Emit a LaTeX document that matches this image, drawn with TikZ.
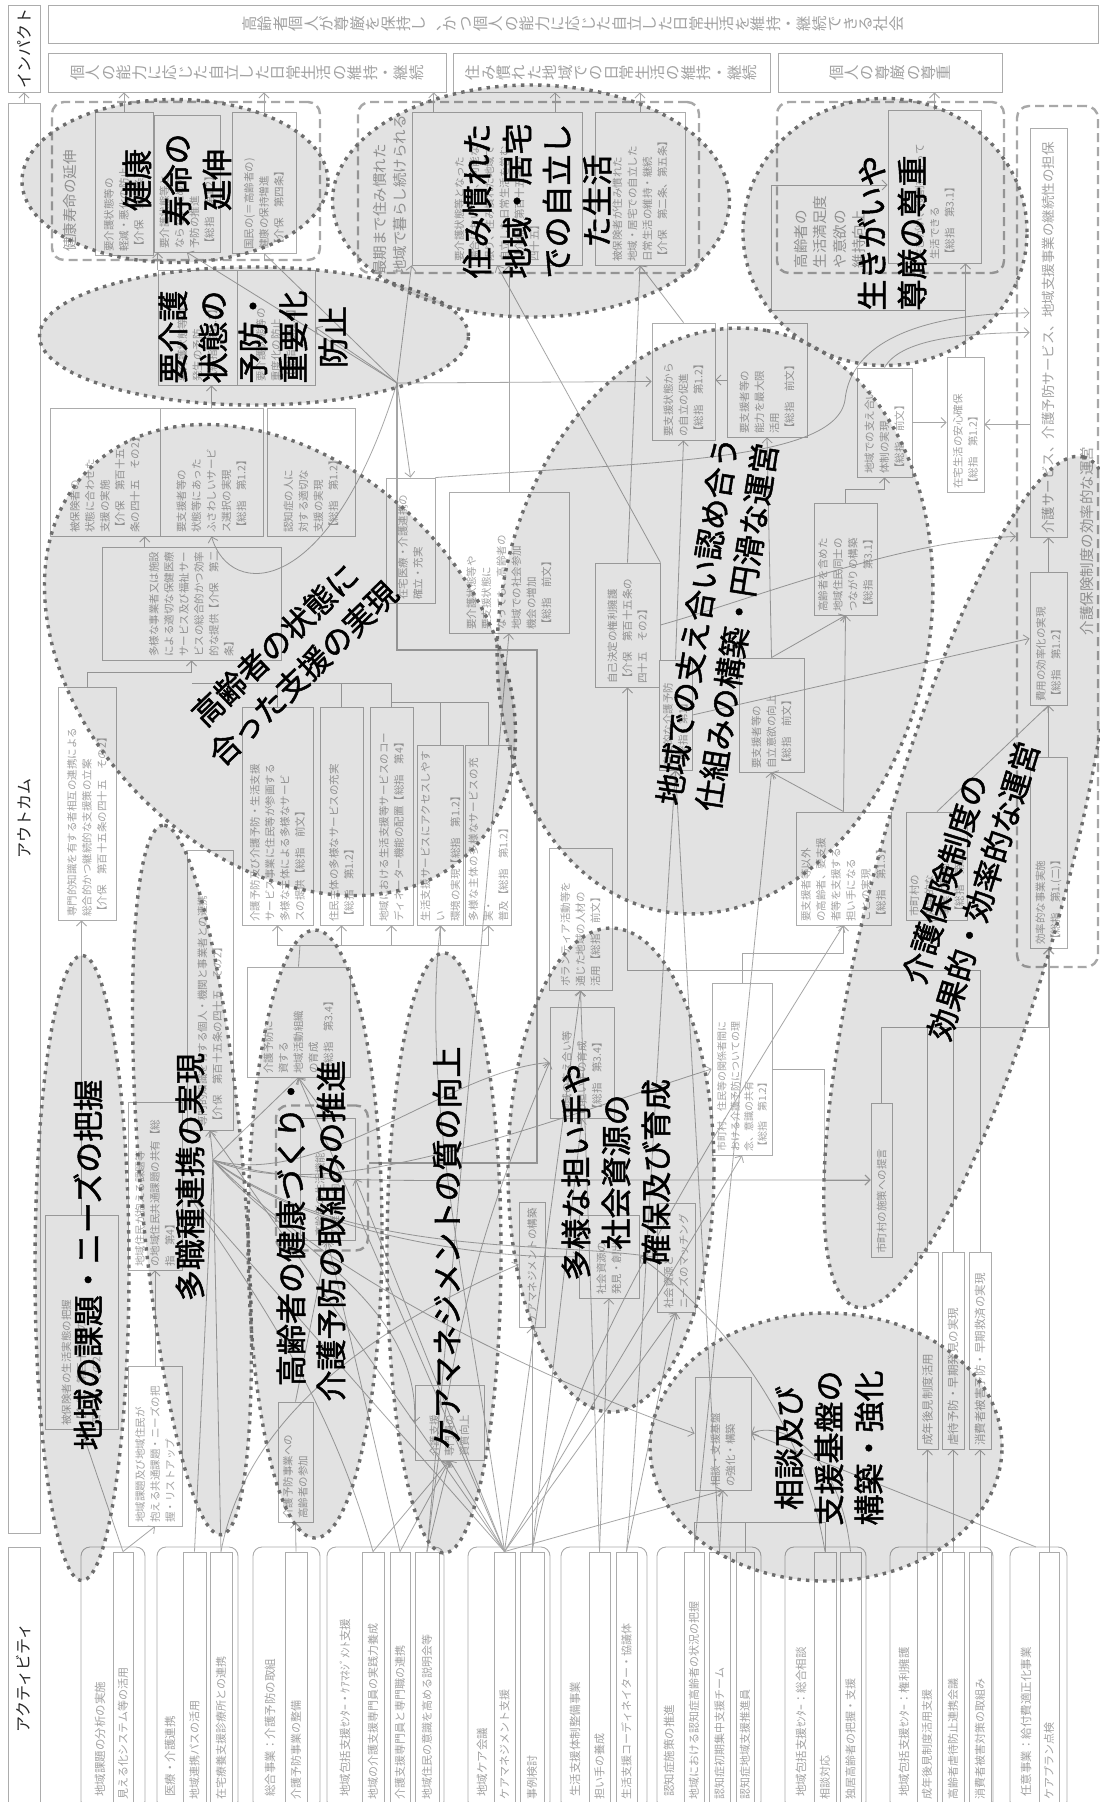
\documentclass[tikz,border=0pt]{standalone}
\usepackage{fontspec}
\usepackage{graphicx}
\newfontfamily\jp{Noto Sans CJK JP}
\newfontfamily\jpm{Noto Sans CJK JP}[FakeBold=1.6]
\usetikzlibrary{shapes.geometric,arrows.meta,calc}
\XeTeXlinebreaklocale "ja"
\XeTeXlinebreakskip=0pt plus 1pt
\definecolor{bc}{HTML}{ACACAC}
\definecolor{tc}{HTML}{A2A2A2}
\definecolor{lc}{HTML}{A6A6A6}
\definecolor{dc}{HTML}{6E6E6E}
\definecolor{gc}{HTML}{A8A8A8}
\makeatletter
\def\tate#1{\vbox{\baselineskip=1em\lineskiplimit=-\maxdimen\lineskip=0pt\relax\tate@#1\relax}}
\def\tate@#1{\ifx\relax#1\else\hbox to 1em{\hss#1\hss}\expandafter\tate@\fi}
\makeatother
\newcommand{\bx}[7][]{%
 \pgfmathsetmacro\bxcx{(#3+#5)/2}%
 \pgfmathsetmacro\bxcy{(#4+#6)/2}%
 \pgfmathsetmacro\bxl{abs(#6-#4)}%
 \pgfmathsetmacro\bxw{abs(#5-#3)}%
 \pgfmathsetmacro\bxt{abs(#6-#4)-7}%
 \node[obox,minimum width=\bxl pt,minimum height=\bxw pt,text width=\bxt pt,#1] (#2) at (\bxcx,\bxcy) {#7};}
\begin{document}
\begin{tikzpicture}[x=1pt,y=-1pt,
 obox/.style={rotate=90,draw=bc,fill=white,line width=0.9pt,inner sep=3pt,text=tc,align=left,font=\jp\fontsize{10.5}{15}\selectfont},
 ibox/.style={draw=bc,fill=white,line width=0.9pt,inner sep=0pt,text=tc,font=\jp\fontsize{15.4}{16}\selectfont},
 hdr/.style={rotate=90,draw=bc,fill=white,line width=0.9pt,minimum height=32pt,inner sep=0pt,text=black!85,font=\jp\fontsize{16}{18}\selectfont},
 dgrp/.style={draw=gc,line width=2.4pt,dash pattern=on 9pt off 5pt,rounded corners=12pt,inner sep=0pt},
 glab/.style={rotate=90,text=tc,align=left,inner sep=0pt,font=\jp\fontsize{14.5}{19.5}\selectfont},
 agrp/.style={draw=bc,line width=0.9pt,rounded corners=9pt,inner sep=0pt,minimum height=263pt},
 alab/.style={rotate=90,anchor=west,text=tc,inner sep=0pt,font=\jp\fontsize{11.5}{13}\selectfont},
 sf/.style={font=\jp\fontsize{11}{13}\selectfont},
 ell/.style={ellipse,draw=dc,line width=3.4pt,dash pattern=on 3.4pt off 5.2pt,fill=black,fill opacity=0.115,draw opacity=1,inner sep=0pt},
 big/.style={align=center,text=black,inner sep=0pt,font=\jpm\fontsize{31}{40}\selectfont},
 bigv/.style={big,rotate=90},
 cn/.style={draw=lc,line width=0.8pt},
 ca/.style={cn,-{Straight Barb[length=5pt,width=10pt]}}
]
\useasboundingbox (0,0) rectangle (1100,1802);
\fill[white] (0,0) rectangle (1100,1802);
\clip (0,0) rectangle (1100,1802);

% ---------------- header column
\node[hdr,minimum width=87pt] (hImp) at (24,48.5) {インパクト};
\node[hdr,minimum width=1430pt] (hOut) at (24,818) {アウトカム};
\node[hdr,minimum width=262pt] (hAct) at (24,1678) {アクティビティ};

% ---------------- impact rows
\node[ibox,minimum width=1050pt,minimum height=38pt] (imp) at (573,24) {\rotatebox{90}{\tate{高齢者個人が尊厳を保持し、かつ個人の能力に応じた自立した日常生活を維持・継続できる社会}}};
\node[ibox,minimum width=398pt,minimum height=39pt] (o1) at (247,72.5) {\rotatebox{90}{\tate{個人の能力に応じた自立した日常生活の維持・継続}}};
\node[ibox,minimum width=317pt,minimum height=39pt] (o2) at (611.5,72.5) {\rotatebox{90}{\tate{住み慣れた地域での日常生活の維持・継続}}};
\node[ibox,minimum width=224pt,minimum height=39pt] (o3) at (890,72.5) {\rotatebox{90}{\tate{個人の尊厳の尊重}}};

% ---------------- dashed groups
\node[dgrp,minimum width=268pt,minimum height=158pt] (g1) at (186,181) {};
\node[dgrp,minimum width=341pt,minimum height=171pt] (g2) at (528.5,187.5) {};
\node[dgrp,minimum width=227pt,minimum height=171pt] (g3) at (890.5,187.5) {};
\node[dgrp,minimum width=81pt,minimum height=861pt] (g4) at (1057.5,536.5) {};
\node[dgrp,minimum width=92pt,minimum height=145pt] (g5) at (322,1178) {};
\node[glab] (g1l) at (70,201) {健康寿命の延伸};
\node[glab] (g2l) at (390,195) {最期まで住み慣れた\\地域で暮らし続けられる};
\node[glab] (g3l) at (830,232) {高齢者の\\生活満足度\\や意欲の\\維持向上};
\node[glab] (g4l) at (1087,541) {介護保険制度の効率的な運営};

% ---------------- outcome boxes (top)
\bx{b1a}{95}{112}{153}{255}{要介護状態等の\\軽減・悪化の防止\\【介保　第二条】}
\bx{b1b}{154}{115}{220}{252}{要介護状態等と\\ならないための\\予防の推進\\【総指　第1.2】}
\bx{b1c}{232}{112}{296}{253}{国民の(＝高齢者の)\\健康の保持増進\\【介保　第四条】}
\bx{b2a}{412}{112}{582}{265}{要介護状態等となった\\場合においても、可能な\\限り、住み慣れた地域で\\自立した日常生活を営む\\【介保　第百十五条の\\四十五】}
\bx{b2b}{595}{112}{685}{265}{被保険者が住み慣れた\\地域・居宅での自立した\\日常生活の維持・継続\\【介保　第二条、第五条】}
\bx{b3b}{888}{110}{981}{263}{生きがい、役割を持って\\生活できる\\【総指　第3.1】}
\bx[font=\jp\fontsize{13.5}{15}\selectfont]{b4a}{1030}{128}{1067}{537}{介護サービス、介護予防サービス、地域支援事業の継続性の担保}
\bx{b4b}{1030}{572}{1067}{705}{費用の効率化の実現\\【総指　第1.2】}
\bx{b4c}{1030}{757}{1067}{948}{効率的な事業実施\\【総指　第1.(二)】}

% ---------------- E2 / E5 area
\bx{b5a}{158}{270}{237}{385}{要介護状態等の\\発生の予防\\【総指　第1.2】}
\bx{b5b}{237}{270}{315}{385}{要介護状態等の\\重度化の防止\\【総指　第1.2】}
\bx{b6a}{50}{408}{160}{536}{被保険者の\\状態に合わせた\\支援の実施\\【介保　第百十五\\条の四十五　その2】}
\bx{b6b}{160}{408}{263}{536}{要支援者等の\\状態等にあった\\ふさわしいサービ\\ス選択の実現\\【総指　第1.2】}
\bx{b6c}{267}{408}{355}{536}{認知症の人に\\対する適切な\\支援の実現\\【総指　第1.2】}
\bx{b6d}{102}{547}{281}{660}{多様な事業者又は施設\\による適切な保健医療\\サービス及び福祉サー\\ビスの総合的かつ効率\\的な提供【介保　第二条】}
\bx{b6e}{58}{687}{116}{920}{専門的知識を有する者相互の連携による\\総合的かつ継続的な支援策の立案\\【介保　第百十五条の四十五　その2】}
\bx{b6f}{242}{707}{313}{925}{介護予防及び介護予防・生活支援\\サービス事業に住民等が参画する\\多様な主体による多様なサービ\\スの提供【総指　前文】}
\bx{b6g}{320}{707}{363}{925}{住民主体の多様なサービスの充実\\【総指　第1.2】}
\bx{b6h}{370}{707}{413}{925}{地域における生活支援等サービスのコー\\ディネーター機能の配置【総指　第4】}
\bx{b6i}{420}{745}{461}{925}{生活支援サービスにアクセスしやすい\\環境の実現【総指　第1.2】}
\bx{b6j}{467}{745}{510}{925}{多様な主体の多様なサービスの充実・\\普及【総指　第1.2】}

% ---------------- E13 area
\bx{b7a}{386}{478}{435}{603}{在宅医療・介護連携の\\確立・充実}
\bx{b7b}{449}{492}{569}{633}{要介護状態等や\\要支援状態に\\なっても、高齢者の\\地域での社会参加\\機会の増加\\【総指　前文】}
\bx{b7c}{595}{563}{660}{687}{自己決定の権利擁護\\【介保　第百十五条の\\四十五　その2】}
\bx{b7d}{659}{660}{692}{770}{自立的な介護予防\\【総指　第1】}
\bx{b7e}{652}{323}{715}{440}{要支援状態から\\の自立の促進\\【総指　第1.2】}
\bx{b7f}{727}{323}{807}{437}{要支援者等の\\能力を最大限\\活用\\【総指　前文】}
\bx{b7g}{857}{368}{912}{477}{地域での支え合い\\体制の実現\\【総指　前文】}
\bx{b7h}{947}{357}{984}{492}{在宅生活の安心確保\\【総指　第1.2】}
\bx{b7i}{814}{503}{877}{615}{高齢者を含めた\\地域住民同士の\\つながりの構築\\【総指　第3.1】}
\bx{b7j}{739}{658}{804}{772}{要支援者等の\\自立意欲の向上\\【総指　前文】}
\bx{b7k}{796}{812}{891}{925}{要支援者等以外\\の高齢者、要支援\\者等を支援する\\担い手になる\\ことの実現\\【総指　第1.3】}
\bx{b7l}{907}{812}{967}{920}{市町村の\\効果的な\\事業の実施\\【総指　第1】}

% ---------------- lower outcome boxes
\bx{b8a}{549}{848}{612}{990}{ボランティア活動等を\\通じた地域の人材の\\活用【総指　前文】}
\bx{b8b}{550}{1007}{614}{1118}{地域の支え合い等\\の担い手の育成\\【総指　第3.4】}
\bx[font=\jp\fontsize{10}{13.5}\selectfont]{b8d}{712}{983}{772}{1155}{市町村、住民等の関係者間に\\おける介護予防についての理\\念、意識の共有\\【総指　第1.2】}
\bx{b8e}{871}{1103}{892}{1257}{市町村の施策への提言}
\bx[font=\jp\fontsize{11.5}{13}\selectfont]{b8f}{917}{1252}{938}{1449}{成年後見制度活用}
\bx[font=\jp\fontsize{11.5}{13}\selectfont]{b8g}{942}{1252}{964}{1449}{虐待予防・早期発見の実現}
\bx[font=\jp\fontsize{11.5}{13}\selectfont]{b8h}{969}{1252}{991}{1449}{消費者被害予防・早期救済の実現}

\bx{b9a}{45}{1215}{118}{1429}{被保険者の生活実態の把握\\【介保　第百十五条の\\四十五　その2】}
\bx{b9b}{128}{1366}{182}{1526}{地域課題及び地域住民が\\抱える共通課題・ニーズの把\\握・リストアップ}
\bx{b9c}{128}{1102}{182}{1270}{地域住民が抱える課題等\\の地域住民共通課題の共有【総\\指　第4】}
\bx{b9d}{187}{850}{233}{1130}{専門的知識を有する個人・機関と事業者との連携\\【介保　第百十五条の四十五　その2】}
\bx{b9e}{247}{967}{350}{1077}{介護予防に\\資する\\地域活動組織\\の育成\\【総指　第3.4】}
\bx{b9f}{300}{1118}{355}{1240}{高齢者の生活機能\\の維持・向上}
\bx{b9g}{278}{1402}{313}{1522}{介護予防事業への\\高齢者の参加}
\bx{b9h}{415}{1385}{484}{1460}{介護支援\\専門員の\\資質向上}
\bx{b9i}{519}{1202}{545}{1327}{ケアマネジメントの構築}
\bx{b9j}{579}{1215}{639}{1298}{社会資源の\\発見・創出}
\bx{b9k}{657}{1203}{695}{1312}{社会資源と\\ニーズのマッチング}
\bx{b9l}{695}{1377}{751}{1490}{相談・支援基盤\\の強化・構築}

% ---------------- activities
\node[agrp,minimum width=64pt] (a1) at (113,1678.5) {};
\node[agrp,minimum width=81pt] (a2) at (197.5,1678.5) {};
\node[agrp,minimum width=67pt] (a3) at (286.5,1678.5) {};
\node[agrp,minimum width=117pt] (a4) at (385.5,1678.5) {};
\node[agrp,minimum width=82pt] (a5) at (509,1678.5) {};
\node[agrp,minimum width=86pt] (a6) at (604,1678.5) {};
\node[agrp,minimum width=104pt] (a7) at (709,1678.5) {};
\node[agrp,minimum width=81pt] (a8) at (825.5,1678.5) {};
\node[agrp,minimum width=103pt] (a9) at (941.5,1678.5) {};
\node[agrp,minimum width=57pt] (a10) at (1038.5,1678.5) {};
\node[alab] (a1l) at (100,1797) {地域課題の分析の実施};
\node[alab] (a2l) at (170,1797) {医療・介護連携};
\node[alab] (a3l) at (270,1797) {総合事業：介護予防の取組};
\node[alab] (a4l) at (345,1797) {地域包括支援ｾﾝﾀｰ・ｹｱﾏﾈｼﾞﾒﾝﾄ支援};
\node[alab] (a5l) at (482,1797) {地域ケア会議};
\node[alab] (a6l) at (575,1797) {生活支援体制整備事業};
\node[alab] (a7l) at (669,1797) {認知症施策の推進};
\node[alab] (a8l) at (801,1797) {地域包括支援ｾﾝﾀｰ：総合相談};
\node[alab] (a9l) at (904,1797) {地域包括支援ｾﾝﾀｰ：権利擁護};
\node[alab] (a10l) at (1026,1797) {任意事業：給付費適正化事業};
\bx[sf]{s11}{113}{1552}{133}{1803}{見える化システム等の活用}
\bx[sf]{s21}{183}{1552}{206}{1803}{地域連携パスの活用}
\bx[sf]{s22}{210}{1552}{232}{1803}{在宅療養支援診療所との連携}
\bx[sf]{s31}{285}{1552}{307}{1803}{介護予防事業の整備}
\bx[sf]{s41}{362}{1552}{384}{1803}{地域の介護支援専門員の実践力養成}
\bx[sf]{s42}{390}{1552}{410}{1803}{介護支援専門員と専門職の連携}
\bx[sf]{s43}{415}{1552}{439}{1803}{地域住民の意識を高める説明会等}
\bx[sf]{s51}{494}{1552}{515}{1803}{ケアマネジメント支援}
\bx[sf]{s52}{520}{1552}{544}{1803}{事例検討}
\bx[sf]{s61}{589}{1552}{610}{1803}{担い手の養成}
\bx[sf]{s62}{616}{1552}{637}{1803}{生活支援コーディネイター・協議体}
\bx[sf]{s71}{684}{1552}{704}{1803}{地域における認知症高齢者の状況の把握}
\bx[sf]{s72}{709}{1552}{730}{1803}{認知症初期集中支援チーム}
\bx[sf]{s73}{736}{1552}{754}{1803}{認知症地域支援推進員}
\bx[sf]{s81}{814}{1552}{836}{1803}{相談対応}
\bx[sf]{s82}{840}{1552}{861}{1803}{独居高齢者の把握・支援}
\bx[sf]{s91}{917}{1552}{937}{1803}{成年後見制度活用支援}
\bx[sf]{s92}{942}{1552}{964}{1803}{高齢者虐待防止連携会議}
\bx[sf]{s93}{969}{1552}{991}{1803}{消費者被害対策の取組み}
\bx[sf]{s101}{1039}{1552}{1059}{1803}{ケアプラン点検}

% ---------------- connectors
\draw[ca] (hOut.east) -- (hImp.west);
\draw[ca] (b1a.east) -- (b1a.east |- o1.south);
\draw[ca] (b1c.east) -- (b1c.east |- o1.south);
\coordinate (p1) at ($(b2a.north east)!0.13!(b2a.south east)$);
\draw[ca] (p1) -- (p1 |- o1.south);
\coordinate (p2) at ($(b2a.north east)!0.84!(b2a.south east)$);
\draw[ca] (p2) -- (p2 |- o2.south);
\draw[ca] (b2b.east) -- (b2b.east |- o2.south);
\draw[ca] (b3b.east) -- (b3b.east |- o3.south);
\draw[ca] (b4c.east) -- (b4b.west);
\draw[ca] (b4b.east) -- (b4a.west);
\draw[ca] (b7h.east) -- (b7h.east |- b3b.west);
\draw[ca] (b7g.south) -- (b7g.south -| b7h.north);
\draw[ca] (b4a.north |- b7h.south) -- (b7h.south);
\draw[ca] (b7i.east) -- ++(0,-13) -| (b7g.west);
\draw[ca] (b7j.east) -- (b7i.west);
\draw[ca] (b7k.east) -- (b7i.west);
\draw[ca] (b7k.east) -- (b7j.west);
\draw[ca] (b7j.east) -- (b7f.west);
\draw[ca] (b7f.north) -- (b7f.north -| b7e.south);
\draw[ca] (b7d.east) -- (b7e.west);
\draw[ca] (b7e.east) -- (b2b.west);
\draw[ca] (b7b.east) -- (b7b.east |- b2a.west);
\draw[ca] (b7c.east) -- (b2b.west);
\draw[ca] (b7c.south east) -- (b2a.west);
\coordinate (p3) at ($(b4a.north west)!0.548!(b4a.north east)$);
\draw[ca] (b7a.south east) .. controls (650,462) and (835,462) .. (845,400) .. controls (852,330) and (950,313) .. (p3);
\coordinate (p4) at ($(b4a.north west)!0.5!(b4a.north east)$);
\draw[ca] (b7g.east) .. controls (900,340) and (960,333) .. (p4);
\coordinate (p5) at ($(b3b.north west)!0.51!(b3b.north east)$);
\coordinate (q1) at (771,310);
\draw[ca] (b7h.east) |- (q1) |- (p5);
\draw[ca] (b7c.south) .. controls (750,600) and (900,540) .. (g4.west);
\draw[ca] (b7d.south) -- (b4b.north);
\draw[ca] (b7l.east) -- (b4b.west);
\coordinate (q2) at (1048.5,1027);
\draw[ca] (b8e.east) |- (q2) -- (b4c.west);
\draw[cn] (b8f.east) |- (q2);
\draw[cn] (b8g.east) |- (q2);
\draw[ca] (s101.east) -- (s101.east |- b4c.west);
\draw[ca] (s91.east) -- (b8f.west);
\draw[ca] (s92.east) -- (b8g.west);
\draw[ca] (s93.east) -- (b8h.west);
\coordinate (q4) at (824,1100);
\draw[ca] (b8d.south) -| (q4) |- (b8e.north);
\coordinate (q5) at (843.5,953);
\draw[ca] (b8d.east) |- (q5) -- (b7k.west);
\coordinate (q3) at (627.5,970);
\draw[ca] (b8h.east) |- (q3) -- (b7c.west);
% hub2 and thick bus
\coordinate (hub2) at (397,383);
\draw[ca] (hub2) -- (b5b.south);
\draw[ca] (hub2) -- (b1c.west);
\draw[ca] (hub2) -- (b1b.west);
\draw[ca] (hub2) -- (b2a.north west);
\draw[ca] (hub2) -- (b7e.north);
\draw[ca] (hub2) -- (b7a.east);
\draw[ca] (hub2) .. controls (330,600) and (230,600) .. (b6b.west);
\coordinate (k1) at (397,650);
\coordinate (k2) at (537,650);
\coordinate (k3) at (537,1163);
\coordinate (k4) at (g5.east |- k3);
\draw[cn,line width=2.2pt] (k4) -- (k3) -- (k2) -- (k1) -- (hub2);
% E2/E5
\draw[ca] (b5a.north east) -- (b5a.north east |- b1b.west);
\draw[ca] (b6b.east) -- (b6b.east |- b5a.west);
\coordinate (p7) at ($(b6d.north east)!0.24!(b6d.south east)$);
\draw[ca] (p7) -- (p7 |- b6a.west);
\draw[ca] (b6e.east) -- ++(0,-14) -| (b6d.west);
\coordinate (q8) at (191.5,683);
\draw[cn] (b6f.east) |- (q8);
\draw[cn] (b6g.east) |- (q8);
\draw[cn] (b6h.east) |- (q8);
\coordinate (q9) at (391.5,702);
\draw[cn] (b6i.east) |- (q9);
\draw[cn] (b6j.east) |- (q9);
\coordinate (q10) at (300,945);
\draw[cn] (b9e.east) -- (q10);
\draw[ca] (q10) -| (b6f.west);
\draw[ca] (q10) -| (b6g.west);
\draw[ca] (q10) -| (b6h.west);
\draw[ca] (q10) -| (b6i.west);
\draw[ca] (q10) -| (b6j.west);
% left column
\draw[ca] (s11.east) -- (b9b.west);
\draw[ca] (s11.east) -- (b9a.west);
\draw[ca] (b9b.east) -- (b9c.west);
\draw[ca] (b9a.east) -- (b9a.east |- b6e.west);
% hub1
\coordinate (hub1) at (213,1160);
\draw[cn] (s21.east) -- (hub1);
\draw[cn] (s22.east) -- (hub1);
\draw[ca] (hub1) -- (b9d.west);
\draw[ca] (hub1) -- (b9e.west);
\draw[ca] (hub1) .. controls (350,1300) and (600,1400) .. (b9l.north);
\draw[ca] (hub1) .. controls (350,1260) and (550,1240) .. (b9k.north);
\draw[ca] (hub1) .. controls (330,1210) and (550,1120) .. (b8d.north);
\draw[ca] (hub1) .. controls (320,1190) and (450,1070) .. (b8b.north);
\draw[ca] (hub1) .. controls (300,1230) and (480,1260) .. (b9j.north);
\draw[ca] (hub1) .. controls (280,1240) and (420,1300) .. (b9h.north);
\coordinate (q6) at (540,1180);
\draw[ca] (hub1) .. controls (290,1185) and (400,1180) .. (q6) -- (b8e.north);
% activity links
\draw[ca] (s31.east) -- (b9g.west);
\draw[ca] (b9g.east) -- (b9f.west);
\draw[ca] (b9f.east) -- (b9e.west);
\draw[ca] (s41.east) -- (b9h.west);
\draw[ca] (s42.east) -- (b9h.west);
\draw[ca] (s43.east) -- (b9h.west);
\draw[ca] (s51.east) -- (b9h.west);
\draw[ca] (s51.east) -- (b9l.west);
\draw[ca] (s51.east) -- (b9e.west);
\draw[ca] (s51.east) -- (b9c.south);
\draw[ca] (s51.east) -- (b8a.west);
\draw[ca] (s51.east) -- (b9k.west);
\draw[ca] (s51.east) -- (b9d.west);
\draw[ca] (s51.east) -- (b9f.south);
\draw[ca] (s51.east) -- (b8d.west);
\draw[ca] (s51.east) .. controls (470,1300) and (420,1100) .. (b6i.west);
\draw[ca] (s41.east) .. controls (330,1400) and (260,1300) .. (b9c.south);
\draw[ca] (s42.east) -- (b9f.west);
\draw[ca] (s43.east) .. controls (450,1350) and (470,1250) .. (b8b.north);
\draw[ca] (s22.east) .. controls (240,1450) and (320,1350) .. (b9i.north);
\draw[ca] (s52.east) -- (s52.east |- b9i.west);
\draw[ca] (s52.east) -- (b8b.west);
\draw[ca] (s52.east) .. controls (560,1400) and (640,1250) .. (b7k.west);
\draw[ca] (s61.east) -- (b9j.west);
\draw[ca] (s61.east) -- (b8a.west);
\draw[ca] (s62.east) -- (b9k.west);
\draw[ca] (s62.east) .. controls (640,1400) and (660,1000) .. (b7d.west);
\draw[ca] (s43.east) -- (b7b.west);
\draw[ca] (s72.east) -- (b7d.west);
\draw[ca] (s71.east) -- (b7j.west);
\draw[ca] (s81.east) .. controls (800,1400) and (700,1300) .. (b9j.south);
\coordinate (q7) at (723,1522);
\draw[cn] (s71.east) |- (q7);
\draw[cn] (s73.east) |- (q7);
\draw[cn] (s81.east) |- (q7);
\draw[ca] (s72.east) -- (b9l.west);
\draw[ca] (s82.east) .. controls (840,1450) and (780,1420) .. (b9l.south);
\coordinate (q11) at (1036,1547);
\draw[ca] (q11) -- (b9l.south);

% ---------------- ellipses
\node[ell,minimum width=306pt,minimum height=163pt] (e1) at (175,181) {};
\node[ell,minimum width=429pt,minimum height=138pt] (e2) at (254,336) {};
\node[ell,minimum width=397pt,minimum height=232pt] (e3) at (531,201) {};
\node[ell,minimum width=284pt,minimum height=267pt] (e4) at (885,232) {};
\node[ell,rotate=-45,minimum width=540pt,minimum height=390pt] (e5) at (280,660) {};
\node[ell,minimum width=94pt,minimum height=625pt] (e6) at (82,1268) {};
\node[ell,rotate=94.7,minimum width=712pt,minimum height=104pt] (e7) at (192,1180) {};
\node[ell,minimum width=134pt,minimum height=608pt] (e8) at (315,1234) {};
\node[ell,minimum width=114pt,minimum height=600pt] (e9) at (444,1253) {};
\node[ell,minimum width=206pt,minimum height=484pt] (e10) at (611,1170) {};
\node[ell,minimum width=352pt,minimum height=268pt] (e11) at (826,1447) {};
\node[ell,rotate=75,minimum width=880pt,minimum height=190pt] (e12) at (970,882) {};
\node[ell,rotate=80,minimum width=590pt,minimum height=430pt] (e13) at (715,621) {};

% ---------------- big labels
\node[bigv] (t1) at (177,180) {健康\\寿命の\\延伸};
\node[bigv] (t2) at (253,337) {要介護\\状態の\\予防・\\重要化\\防止};
\node[bigv] (t3) at (537,201) {住み慣れた\\地域・居宅\\での自立し\\た生活};
\node[bigv] (t4) at (892,233) {生きがいや\\尊厳の尊重};
\node[big,rotate=44] (t5) at (289,659) {高齢者の状態に\\合った支援の実現};
\node[bigv] (t6) at (88,1265) {地域の課題・ニーズの把握};
\node[bigv] (t7) at (190,1177) {多職種連携の実現};
\node[bigv] (t8) at (311,1231) {高齢者の健康づくり・\\介護予防の取組みの推進};
\node[bigv] (t9) at (447,1248) {ケアマネジメントの質の向上};
\node[bigv] (t10) at (616,1172) {多様な担い手や\\社会資源の\\確保及び育成};
\node[bigv] (t11) at (829,1448) {相談及び\\支援基盤の\\構築・強化};
\node[big,rotate=73] (t12) at (964,885) {介護保険制度の\\効果的・効率的な運営};
\node[big,rotate=81] (t13) at (717,624) {地域での支え合い認め合う\\仕組みの構築・円滑な運営};
\end{tikzpicture}
\end{document}
